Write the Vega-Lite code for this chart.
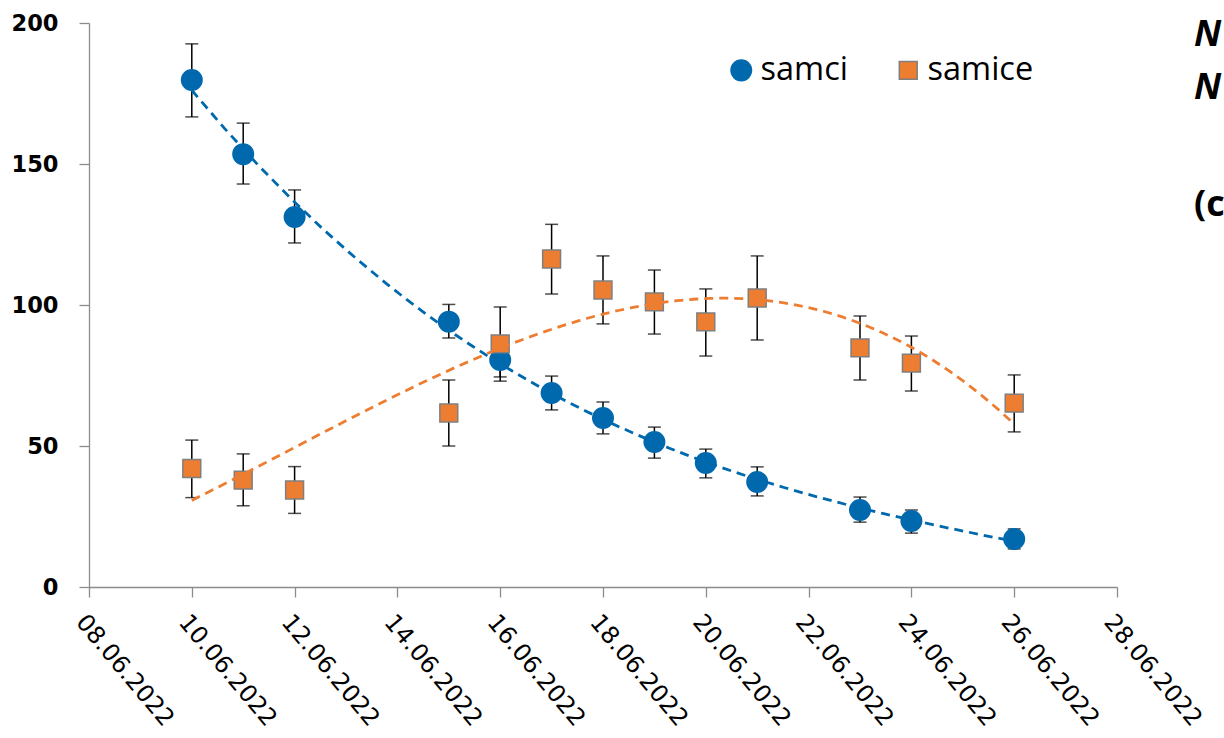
{
  "$schema": "https://vega.github.io/schema/vega-lite/v6.json",
  "width": 1028,
  "height": 564,
  "autosize": {"type": "none"},
  "padding": {"left": 89, "top": 23, "right": 107, "bottom": 151},
  "background": "white",
  "config": {"view": {"stroke": null}},
  "data": {"values": [
    {"day": 10, "sex": "samci", "value": 179.8, "lo": 166.7, "hi": 192.6},
    {"day": 11, "sex": "samci", "value": 153.5, "lo": 142.9, "hi": 164.5},
    {"day": 12, "sex": "samci", "value": 131.2, "lo": 122.0, "hi": 140.8},
    {"day": 15, "sex": "samci", "value": 94.1, "lo": 88.3, "hi": 100.2},
    {"day": 16, "sex": "samci", "value": 80.5, "lo": 73.0, "hi": 88.0},
    {"day": 17, "sex": "samci", "value": 68.8, "lo": 62.8, "hi": 74.8},
    {"day": 18, "sex": "samci", "value": 59.9, "lo": 54.3, "hi": 65.6},
    {"day": 19, "sex": "samci", "value": 51.4, "lo": 45.7, "hi": 56.7},
    {"day": 20, "sex": "samci", "value": 44.0, "lo": 38.7, "hi": 48.9},
    {"day": 21, "sex": "samci", "value": 37.2, "lo": 32.3, "hi": 42.6},
    {"day": 23, "sex": "samci", "value": 27.3, "lo": 23.0, "hi": 31.9},
    {"day": 24, "sex": "samci", "value": 23.4, "lo": 19.1, "hi": 27.3},
    {"day": 26, "sex": "samci", "value": 17.0, "lo": 13.5, "hi": 20.6},
    {"day": 10, "sex": "samice", "value": 42.0, "lo": 31.7, "hi": 52.1},
    {"day": 11, "sex": "samice", "value": 37.9, "lo": 28.8, "hi": 47.2},
    {"day": 12, "sex": "samice", "value": 34.4, "lo": 26.1, "hi": 42.7},
    {"day": 15, "sex": "samice", "value": 61.7, "lo": 50.0, "hi": 73.4},
    {"day": 16, "sex": "samice", "value": 86.2, "lo": 74.5, "hi": 99.3},
    {"day": 17, "sex": "samice", "value": 116.3, "lo": 103.9, "hi": 128.6},
    {"day": 18, "sex": "samice", "value": 105.3, "lo": 93.3, "hi": 117.4},
    {"day": 19, "sex": "samice", "value": 101.1, "lo": 89.7, "hi": 112.4},
    {"day": 20, "sex": "samice", "value": 94.0, "lo": 81.9, "hi": 105.7},
    {"day": 21, "sex": "samice", "value": 102.5, "lo": 87.6, "hi": 117.4},
    {"day": 23, "sex": "samice", "value": 84.8, "lo": 73.4, "hi": 96.1},
    {"day": 24, "sex": "samice", "value": 79.4, "lo": 69.5, "hi": 89.0},
    {"day": 26, "sex": "samice", "value": 65.2, "lo": 55.0, "hi": 75.2}
  ]},
  "layer": [
    {
      "encoding": {
        "x": {
          "field": "day", "type": "quantitative",
          "scale": {"domain": [8, 28], "nice": false, "zero": false},
          "axis": {
            "title": null, "grid": false,
            "values": [8, 10, 12, 14, 16, 18, 20, 22, 24, 26, 28],
            "labelExpr": "(datum.value < 10 ? '0' : '') + datum.value + '.06.2022'",
            "labelAngle": 50, "labelAlign": "left", "labelBaseline": "top",
            "labelFont": "DejaVu Sans", "labelFontSize": 24, "labelColor": "black",
            "labelPadding": 13, "labelOverlap": false, "labelFlush": false,
            "tickSize": 10, "tickColor": "#8c8c8c", "tickWidth": 1.3,
            "domainColor": "#8c8c8c", "domainWidth": 1.3
          }
        },
        "y": {
          "field": "value", "type": "quantitative",
          "scale": {"domain": [0, 200], "nice": false},
          "axis": {
            "title": null, "grid": false,
            "values": [0, 50, 100, 150, 200],
            "labelFont": "DejaVu Sans", "labelFontSize": 22.5, "labelFontWeight": "bold", "labelColor": "black",
            "labelPadding": 21, "labelFlush": false,
            "tickSize": 10, "tickColor": "#8c8c8c", "tickWidth": 1.3,
            "domainColor": "#8c8c8c", "domainWidth": 1.3
          }
        }
      },
      "layer": [
        {
          "mark": {"type": "rule", "color": "black", "strokeWidth": 1.5},
          "encoding": {"y": {"field": "lo", "type": "quantitative"}, "y2": {"field": "hi"}}
        },
        {
          "mark": {"type": "tick", "orient": "horizontal", "color": "black", "thickness": 1.5, "size": 13},
          "encoding": {"y": {"field": "lo", "type": "quantitative"}}
        },
        {
          "mark": {"type": "tick", "orient": "horizontal", "color": "black", "thickness": 1.5, "size": 13},
          "encoding": {"y": {"field": "hi", "type": "quantitative"}}
        },
        {
          "mark": {"type": "point", "filled": true, "opacity": 1, "strokeWidth": 1.5},
          "encoding": {
            "color": {"field": "sex", "type": "nominal",
              "scale": {"domain": ["samci", "samice"], "range": ["#0069AE", "#ED7D31"]},
              "legend": {
                "title": null, "orient": "none", "direction": "horizontal",
                "legendX": 636, "legendY": 31,
                "labelFont": "Open Sans", "labelFontSize": 32.5, "labelColor": "black",
                "labelOffset": 3, "columnPadding": 44, "symbolOpacity": 1
              }},
            "shape": {"field": "sex", "type": "nominal",
              "scale": {"domain": ["samci", "samice"], "range": ["circle", "square"]}},
            "size": {"field": "sex", "type": "nominal",
              "scale": {"domain": ["samci", "samice"], "range": [420, 320]}},
            "stroke": {"field": "sex", "type": "nominal",
              "scale": {"domain": ["samci", "samice"], "range": ["#0069AE", "#7f7f7f"]}}
          }
        },
        {
          "transform": [
            {"filter": "datum.sex == 'samci'"},
            {"regression": "value", "on": "day", "method": "poly", "order": 3}
          ],
          "mark": {"type": "line", "color": "#0069AE", "strokeWidth": 2.8, "strokeDash": [9, 6]},
          "encoding": {}
        },
        {
          "transform": [
            {"filter": "datum.sex == 'samice'"},
            {"regression": "value", "on": "day", "method": "poly", "order": 3}
          ],
          "mark": {"type": "line", "color": "#ED7D31", "strokeWidth": 2.8, "strokeDash": [9, 6]},
          "encoding": {}
        }
      ]
    },
    {
      "data": {"values": [{"label": "N"}]},
      "mark": {"type": "text", "font": "Open Sans", "fontSize": 36, "fontWeight": "bold", "fontStyle": "italic", "align": "left", "baseline": "middle", "color": "black"},
      "encoding": {
        "text": {"field": "label", "type": "nominal"},
        "x": {"datum": 29.5, "type": "quantitative"},
        "y": {"datum": 195.7, "type": "quantitative"}
      }
    },
    {
      "data": {"values": [{"label": "N"}]},
      "mark": {"type": "text", "font": "Open Sans", "fontSize": 36, "fontWeight": "bold", "fontStyle": "italic", "align": "left", "baseline": "middle", "color": "black"},
      "encoding": {
        "text": {"field": "label", "type": "nominal"},
        "x": {"datum": 29.5, "type": "quantitative"},
        "y": {"datum": 177, "type": "quantitative"}
      }
    },
    {
      "data": {"values": [{"label": "(c"}]},
      "mark": {"type": "text", "font": "Open Sans", "fontSize": 36, "fontWeight": "bold", "align": "left", "baseline": "middle", "color": "black"},
      "encoding": {
        "text": {"field": "label", "type": "nominal"},
        "x": {"datum": 29.5, "type": "quantitative"},
        "y": {"datum": 135.5, "type": "quantitative"}
      }
    }
  ]
}
